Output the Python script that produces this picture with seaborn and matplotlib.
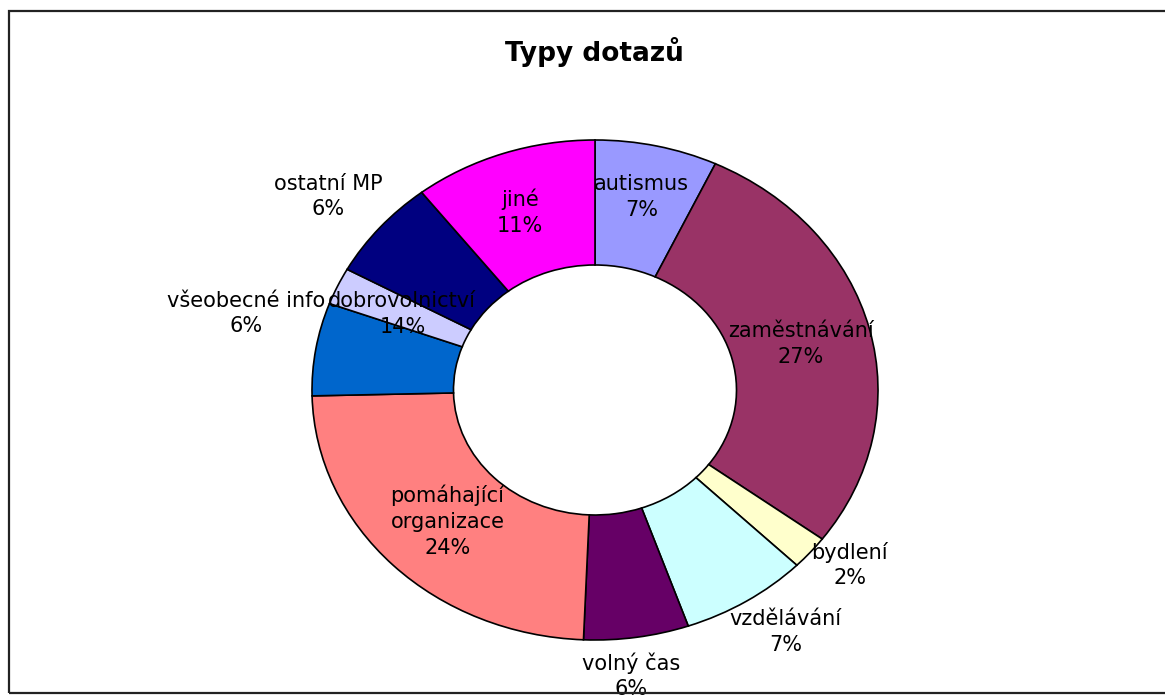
import numpy as np
import matplotlib
matplotlib.use("Agg")
import matplotlib.pyplot as plt
import seaborn as sns
from matplotlib.patches import Rectangle

# ---- data (clockwise from 12 o'clock) ----
categories = ["autismus", "zaměstnávání", "bydlení", "vzdělávání", "volný čas",
              "pomáhající\norganizace", "všeobecné info", "dobrovolnictví",
              "ostatní MP", "jiné"]
values = [7.0, 28.2, 2.2, 7.3, 6.0, 24.0, 6.0, 2.4, 6.5, 10.5]
pct_labels = ["7%", "27%", "2%", "7%", "6%", "24%", "6%", "14%", "6%", "11%"]
colors = ["#9999FF", "#993366", "#FFFFCC", "#CCFFFF", "#660066",
          "#FF8080", "#0066CC", "#CCCCFF", "#000080", "#FF00FF"]
# label placement (radius relative to outer radius, clockwise angle shift in degrees)
label_radius = [0.79, 0.75, 1.14, 1.18, 1.15, 0.74, 1.27, 0.746, 1.22, 0.76]
label_shift = [-0.6, 0, -2.7, -2.5, 2.1, -0.7, 4.5, -0.4, -1.2, -1.6]

sns.set_theme(style="white")
plt.rcParams["font.family"] = ["DejaVu Sans"]

W, H = 1165, 697
fig = plt.figure(figsize=(W / 100, H / 100), dpi=100)
fig.patch.set_facecolor("white")

cx, cy, rx, ry = 595, 390, 283, 250
ax = fig.add_axes([(cx - rx) / W, (H - cy - ry) / H, 2 * rx / W, 2 * ry / H])
wedges, _ = ax.pie(values, colors=colors, startangle=90, counterclock=False,
                   wedgeprops=dict(width=0.5, edgecolor="black", linewidth=1.2))
ax.set_aspect("auto")
ax.set_xlim(-1, 1)
ax.set_ylim(-1, 1)
ax.axis("off")

for w, cat, pct, r, sh in zip(wedges, categories, pct_labels, label_radius, label_shift):
    ang = np.deg2rad((w.theta1 + w.theta2) / 2 - sh)
    ax.text(r * np.cos(ang), r * np.sin(ang), f"{cat}\n{pct}",
            ha="center", va="center", fontsize=15, color="black",
            linespacing=1.35, clip_on=False)

fig.text(594 / W, 1 - 52 / H, "Typy dotazů", ha="center", va="center",
         fontsize=19, fontweight="bold", color="black")

fig.add_artist(Rectangle((9 / W, 4 / H), 1.2, (693 - 11) / H,
                         transform=fig.transFigure, fill=False,
                         edgecolor="#222222", linewidth=1.6))

fig.savefig("out.png", dpi=100)
